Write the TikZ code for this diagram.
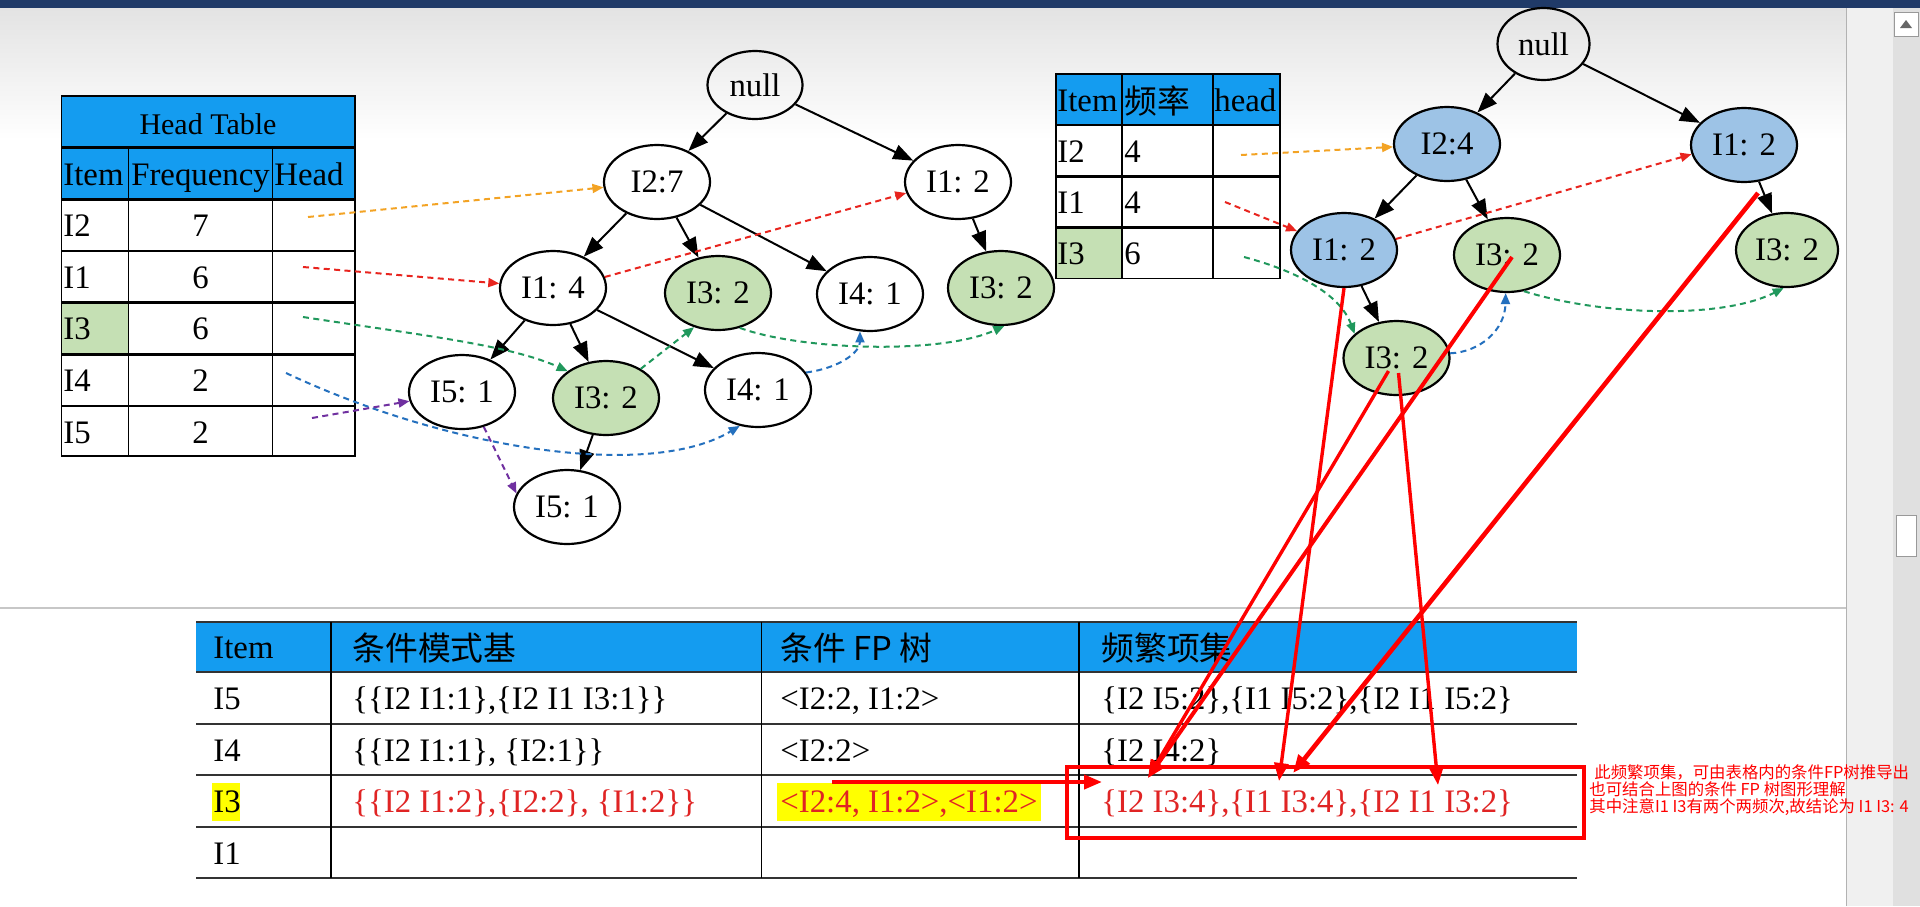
\documentclass[tikz,border=0pt]{standalone}
\usepackage{fontspec}
\setmainfont{Liberation Serif}
\newfontfamily\cjk{Noto Sans CJK SC}
\usetikzlibrary{arrows.meta,shapes.geometric}

\definecolor{hdblue}{RGB}{20,156,240}
\definecolor{cellgreen}{RGB}{197,224,180}
\definecolor{nodeblue}{RGB}{157,195,230}
\definecolor{lkorange}{RGB}{243,163,36}
\definecolor{lkred}{RGB}{232,36,30}
\definecolor{lkgreen}{RGB}{32,152,92}
\definecolor{lkblue}{RGB}{36,112,190}
\definecolor{lkpurple}{RGB}{112,48,160}
\definecolor{txred}{RGB}{224,36,36}
\definecolor{markred}{RGB}{255,0,0}
\definecolor{barnavy}{RGB}{32,58,104}
\definecolor{hiyellow}{RGB}{255,255,0}

\newcommand{\tfont}{\fontsize{16.4}{19}\selectfont}

\begin{document}
\begin{tikzpicture}[x=0.5pt,y=-0.5pt,
  fp/.style={ellipse,draw,line width=1.1pt,minimum width=53pt,minimum height=37pt,inner sep=0pt,font=\tfont},
  fpg/.style={fp,fill=cellgreen},
  fpb/.style={fp,fill=nodeblue},
  tedge/.style={line width=1pt,-{Triangle[length=10pt,width=7.5pt]}},
  lnk/.style={line width=1pt,dash pattern=on 3pt off 2.2pt,-{Triangle[length=5.5pt,width=4.5pt]}},
  cell/.style={anchor=base west,inner sep=0pt,font=\tfont},
  ccell/.style={anchor=base,inner sep=0pt,font=\tfont},
  redarr/.style={draw=markred,line width=1.7pt,-{Triangle[length=9pt,width=7pt]}}]
\useasboundingbox (0,0) rectangle (1920,906);
\fill[white] (0,0) rectangle (1920,906);
\shade[top color=black!11,bottom color=white] (0,8) rectangle (1846,140);
\fill[barnavy] (0,0) rectangle (1920,8);
\fill[black!6] (1846,8) rectangle (1893,906);
\fill[black!12] (1893,8) rectangle (1920,906);
\draw[black!30] (1846,8) -- (1846,906);
\draw[black!40,fill=white] (1894,12) rectangle (1918,36);
\fill[black!60] (1900,28) -- (1912,28) -- (1906,20) -- cycle;
\draw[black!40,fill=white] (1896,515) rectangle (1916,556);
\draw[black!22,line width=1pt] (0,608) -- (1846,608);

% head table
\fill[hdblue] (61.6,96) rectangle (354.9,199.3);
\fill[cellgreen] (61.6,302.7) rectangle (128.6,354.3);
\draw[line width=0.8pt] (61.6,96) rectangle (354.9,456);
\foreach \y in {147.7,199.3,251,302.7,354.3,406}
  \draw[line width=1.3pt] (61.6,\y) -- (354.9,\y);
\foreach \x in {128.6,272.3}
  \draw[line width=0.8pt] (\x,147.7) -- (\x,456);
\node[ccell,font=\fontsize{15}{18}\selectfont] (htitle) at (208,134) {Head Table};
\node[cell] (hitem) at (63,185) {Item};
\node[ccell] (hfreq) at (200.5,185) {Frequency};
\node[cell] (hhead) at (274,185) {Head};
\foreach \it/\fr [count=\i] in {I2/7,I1/6,I3/6,I4/2,I5/2} {
  \node[cell] (hi\i) at (63,{199.3+51.6*(\i-0.5)+11.5}) {\it};
  \node[ccell] (hf\i) at (200.5,{199.3+51.6*(\i-0.5)+11.5}) {\fr};
}

% FP tree
\node[fp,minimum width=47.5pt,minimum height=34pt] (t1null) at (755,85) {null};
\node[fp] (t1i2) at (657,182) {I2:7};
\node[fp] (t1i1r) at (958,182) {I1: 2};
\node[fp] (t1i1) at (553,288) {I1: 4};
\node[fpg] (t1i3m) at (718,293) {I3: 2};
\node[fp] (t1i4u) at (870,294) {I4: 1};
\node[fpg] (t1i3r) at (1001,288) {I3: 2};
\node[fp] (t1i5) at (462,392) {I5: 1};
\node[fpg] (t1i3) at (606,398) {I3: 2};
\node[fp] (t1i4) at (758,390) {I4: 1};
\node[fp] (t1i5b) at (567,507) {I5: 1};
\draw[tedge] (t1null) -- (t1i2);
\draw[tedge] (t1null) -- (t1i1r);
\draw[tedge] (t1i2) -- (t1i1);
\draw[tedge] (t1i2) -- (t1i3m);
\draw[tedge] (t1i2) -- (t1i4u);
\draw[tedge] (t1i1r) -- (t1i3r);
\draw[tedge] (t1i1) -- (t1i5);
\draw[tedge] (t1i1) -- (t1i3);
\draw[tedge] (t1i1) -- (t1i4);
\draw[tedge] (t1i3) -- (t1i5b);

\coordinate (h2) at (308,217);
\coordinate (h1) at (303,267);
\coordinate (h3) at (303,317);
\coordinate (h4) at (286,373);
\coordinate (h5) at (312,418);
\draw[lnk,lkorange] (h2) -- (t1i2);
\draw[lnk,lkred] (h1) -- (t1i1);
\draw[lnk,lkred] (t1i1.12) -- (t1i1r.192);
\draw[lnk,lkgreen] (h3) .. controls (420,335) and (510,345) .. (t1i3.145);
\draw[lnk,lkgreen] (t1i3.40) -- (t1i3m.235);
\draw[lnk,lkgreen] (t1i3m.302) .. controls (800,350) and (940,355) .. (t1i3r.275);
\draw[lnk,lkblue] (h4) .. controls (450,450) and (650,480) .. (t1i4.243);
\draw[lnk,lkblue] (t1i4.20) .. controls (840,368) and (860,352) .. (t1i4u.255);
\draw[lnk,lkpurple] (h5) -- (t1i5);
\draw[lnk,lkpurple] (t1i5.302) -- (t1i5b.165);

% conditional table
\fill[hdblue] (1055.7,74) rectangle (1280,125);
\fill[white] (1055.7,125) rectangle (1280,278.3);
\fill[cellgreen] (1055.7,227.7) rectangle (1122,278.3);
\draw[line width=0.8pt] (1055.7,74) rectangle (1280,278.3);
\foreach \y in {125,176.7,227.7}
  \draw[line width=1.3pt] (1055.7,\y) -- (1280,\y);
\foreach \x in {1122,1213}
  \draw[line width=0.8pt] (\x,74) -- (\x,278.3);
\node[cell] (citem) at (1057,111) {Item};
\node[cell,font=\cjk\tfont] (cfreq) at (1124,113) {频率};
\node[cell] (chead) at (1214,111) {head};
\foreach \it/\fr [count=\i] in {I2/4,I1/4,I3/6} {
  \node[cell] (ci\i) at (1057,{125+51.1*(\i-0.5)+11.5}) {\it};
  \node[cell] (cf\i) at (1124,{125+51.1*(\i-0.5)+11.5}) {\fr};
}

% conditional FP tree
\node[fp,minimum width=46pt,minimum height=36pt] (t2null) at (1543.5,44) {null};
\node[fpb] (t2i2) at (1447,144) {I2:4};
\node[fpb] (t2i1r) at (1744,145) {I1: 2};
\node[fpb] (t2i1) at (1344,250) {I1: 2};
\node[fpg] (t2i3m) at (1507,255) {I3: 2};
\node[fpg,minimum width=51pt] (t2i3r) at (1787,250) {I3: 2};
\node[fpg] (t2i3b) at (1396.5,358) {I3: 2};
\draw[tedge] (t2null) -- (t2i2);
\draw[tedge] (t2null) -- (t2i1r);
\draw[tedge] (t2i2) -- (t2i1);
\draw[tedge] (t2i2) -- (t2i3m);
\draw[tedge] (t2i1r) -- (t2i3r);
\draw[tedge] (t2i1) -- (t2i3b);

\coordinate (g2) at (1241,155);
\coordinate (g1) at (1225,202);
\coordinate (g3) at (1244,257);
\draw[lnk,lkorange] (g2) -- (t2i2);
\draw[lnk,lkred] (g1) -- (t2i1);
\draw[lnk,lkred] (t2i1.12) -- (t2i1r.190);
\draw[lnk,lkgreen] (g3) .. controls (1300,272) and (1340,295) .. (t2i3b.150);
\draw[lnk,lkgreen] (t2i3m.295) .. controls (1600,315) and (1720,320) .. (t2i3r.265);
\draw[lnk,lkblue] (t2i3b.5) .. controls (1480,352) and (1505,330) .. (t2i3m.268);

% result table
\fill[hdblue] (196,621.7) rectangle (1576.7,671.7);
\fill[hiyellow] (211.6,783) rectangle (240.3,820.7);
\fill[hiyellow] (777,783) rectangle (1041,820.7);
\foreach \y in {621.7,671.7,724,775,826.7,878.3}
  \draw[line width=1pt,black!80] (196,\y) -- (1576.7,\y);
\foreach \x in {331,761.5,1079}
  \draw[line width=0.7pt] (\x,621.7) -- (\x,878.3);
\node[cell] (ritem) at (213,658.7) {Item};
\node[cell,font=\cjk\tfont] (rbase) at (352,660) {条件模式基};
\node[cell,font=\cjk\tfont] (rtree) at (780,660) {条件 FP 树};
\node[cell,font=\cjk\tfont] (rset) at (1101,660) {频繁项集};
\node[cell] (r5a) at (213,709.9) {I5};
\node[cell] (r5b) at (352,709.9) {\{\{I2 I1:1\},\{I2 I1 I3:1\}\}};
\node[cell] (r5c) at (780,709.9) {<I2:2, I1:2>};
\node[cell] (r5d) at (1101,709.9) {\{I2 I5:2\},\{I1 I5:2\},\{I2 I1 I5:2\}};
\node[cell] (r4a) at (213,761.5) {I4};
\node[cell] (r4b) at (352,761.5) {\{\{I2 I1:1\}, \{I2:1\}\}};
\node[cell] (r4c) at (780,761.5) {<I2:2>};
\node[cell] (r4d) at (1101,761.5) {\{I2 I4:2\}};
\node[cell] (r3a) at (213,812.9) {I3};
\node[cell,text=txred] (r3b) at (352,812.9) {\{\{I2 I1:2\},\{I2:2\}, \{I1:2\}\}};
\node[cell,text=txred] (r3c) at (780,812.9) {<I2:4, I1:2>,<I1:2>};
\node[cell,text=txred] (r3d) at (1101,812.9) {\{I2 I3:4\},\{I1 I3:4\},\{I2 I1 I3:2\}};
\node[cell] (r1a) at (213,864.5) {I1};

% notes
\draw[markred,line width=2pt] (1067,767) rectangle (1584,838);
\node[anchor=west,align=left,inner sep=0pt,text=markred,font=\cjk\fontsize{8.2}{8.35}\selectfont] (note) at (1589,790)
  {\hspace{2.5pt}此频繁项集，可由表格内的条件FP树推导出\\也可结合上图的条件 FP 树图形理解\\其中注意I1 I3有两个两频次,故结论为 I1 I3: 4};
\coordinate (hs) at (832,782);
\coordinate (he) at (1102,782);
\coordinate (tipb) at (1148,778);
\coordinate (tipa) at (1279,781);
\coordinate (tipe) at (1293,773);
\coordinate (tipc) at (1438,785);
\draw[redarr,line width=2pt] (hs) -- (he);
\draw[redarr] (t2i1.south) -- (tipa);
\draw[redarr] ([shift={(-8,13)}]t2i3b.center) -- (tipb);
\draw[redarr] ([shift={(2,15)}]t2i3b.center) -- (tipc);
\draw[redarr,line width=2pt] ([shift={(5,2)}]t2i3m.center) -- (tipb);
\draw[redarr,line width=2.3pt] ([shift={(14,48)}]t2i1r.center) -- (tipe);
\end{tikzpicture}
\end{document}
